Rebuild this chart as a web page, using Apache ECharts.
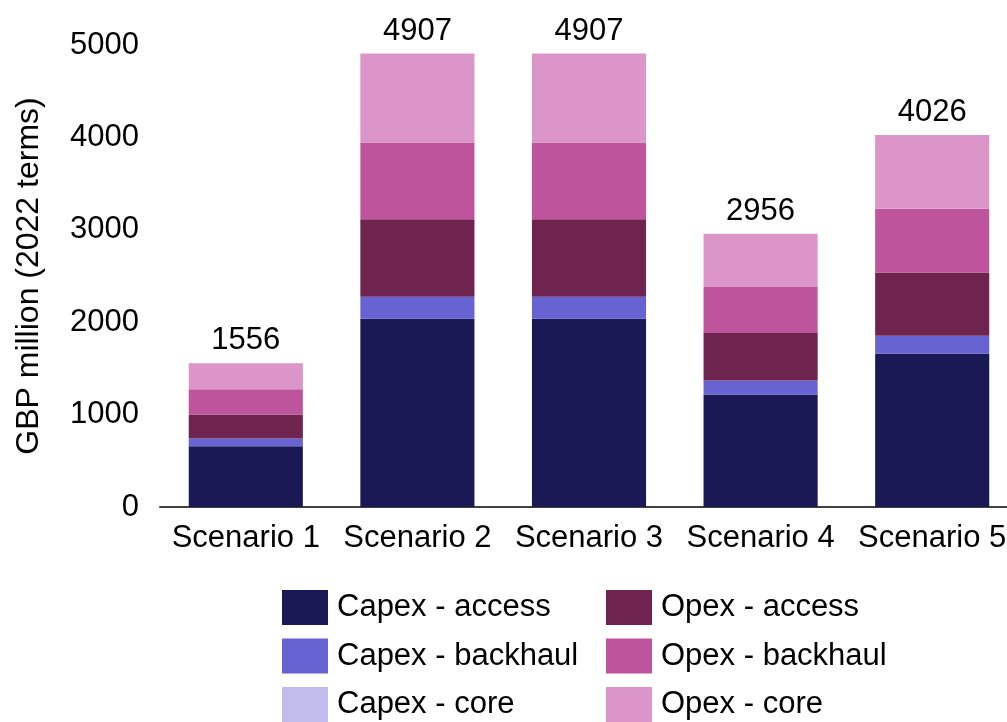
<!DOCTYPE html>
<html>
<head>
<meta charset="utf-8">
<title>Network cost by scenario</title>
<script src="https://cdn.jsdelivr.net/npm/echarts@6/dist/echarts.min.js"></script>
<style>
  html, body { margin: 0; padding: 0; background: #ffffff; overflow: hidden; }
  #chart { width: 1020px; height: 722px; }
</style>
</head>
<body>
<div id="chart"></div>
<script>
// Scenario cost breakdown, GBP million (2022 terms)
const categories = ['Scenario 1', 'Scenario 2', 'Scenario 3', 'Scenario 4', 'Scenario 5'];
const capexAccess    = [657, 2036, 2036, 1217, 1662];
const capexBackhaul  = [83, 240, 240, 151, 191];
const capexCore      = [0, 0, 0, 0, 0];
const opexAccess     = [262, 837, 837, 514, 686];
const opexBackhaul   = [272, 833, 833, 499, 689];
const opexCore       = [282, 961, 961, 575, 798];
const totals         = [1556, 4907, 4907, 2956, 4026];
const yTicks         = [0, 1000, 2000, 3000, 4000, 5000];

const FONT = '"Liberation Sans", Arial, sans-serif';
const TEXT = '#000000';
const FS = 31;

const seriesDefs = [
  { name: 'Capex - access',   data: capexAccess,   color: '#1b1856' },
  { name: 'Capex - backhaul', data: capexBackhaul, color: '#6863d3' },
  { name: 'Capex - core',     data: capexCore,     color: '#c0bdec' },
  { name: 'Opex - access',    data: opexAccess,    color: '#6f234f' },
  { name: 'Opex - backhaul',  data: opexBackhaul,  color: '#be559c' },
  { name: 'Opex - core',      data: opexCore,      color: '#db95c8' }
];

const series = seriesDefs.map((s, i) => {
  const item = {
    name: s.name,
    type: 'bar',
    stack: 'total',
    data: s.data,
    barCategoryGap: '33.5%',
    itemStyle: { color: s.color },
    emphasis: { disabled: true }
  };
  if (i === seriesDefs.length - 1) {
    // total printed above each stack
    item.label = {
      show: true,
      position: 'top',
      distance: 7,
      formatter: p => String(totals[p.dataIndex]),
      color: TEXT,
      fontFamily: FONT,
      fontSize: FS
    };
  }
  return item;
});

const legendCommon = {
  orient: 'vertical',
  icon: 'rect',
  itemWidth: 46,
  itemHeight: 35,
  itemGap: 13.5,
  top: 590,
  height: 200,
  padding: 0,
  textStyle: { color: TEXT, fontFamily: FONT, fontSize: FS, padding: [0, 0, 0, 4] },
  selectedMode: false
};

const chart = echarts.init(document.getElementById('chart'), null, { renderer: 'canvas' });
chart.setOption({
  animation: false,
  backgroundColor: '#ffffff',
  grid: { left: 160, top: 45, width: 858, height: 462, containLabel: false },
  legend: [
    Object.assign({}, legendCommon, { left: 282, data: seriesDefs.slice(0, 3).map(s => s.name) }),
    Object.assign({}, legendCommon, { left: 606, data: seriesDefs.slice(3).map(s => s.name) })
  ],
  xAxis: {
    type: 'category',
    data: categories,
    axisLine: { show: true, lineStyle: { color: '#404040', width: 2 } },
    axisTick: { show: false },
    axisLabel: { color: TEXT, fontFamily: FONT, fontSize: FS, margin: 16, interval: 0 }
  },
  yAxis: {
    type: 'value',
    min: yTicks[0],
    max: yTicks[yTicks.length - 1],
    interval: 1000,
    name: 'GBP million (2022 terms)',
    nameLocation: 'middle',
    nameGap: 115,
    nameTextStyle: { color: TEXT, fontFamily: FONT, fontSize: 32 },
    axisLine: { show: false },
    axisTick: { show: false },
    splitLine: { show: false },
    axisLabel: { color: TEXT, fontFamily: FONT, fontSize: FS, margin: 21, formatter: v => String(v) }
  },
  series: series
});
</script>
</body>
</html>
